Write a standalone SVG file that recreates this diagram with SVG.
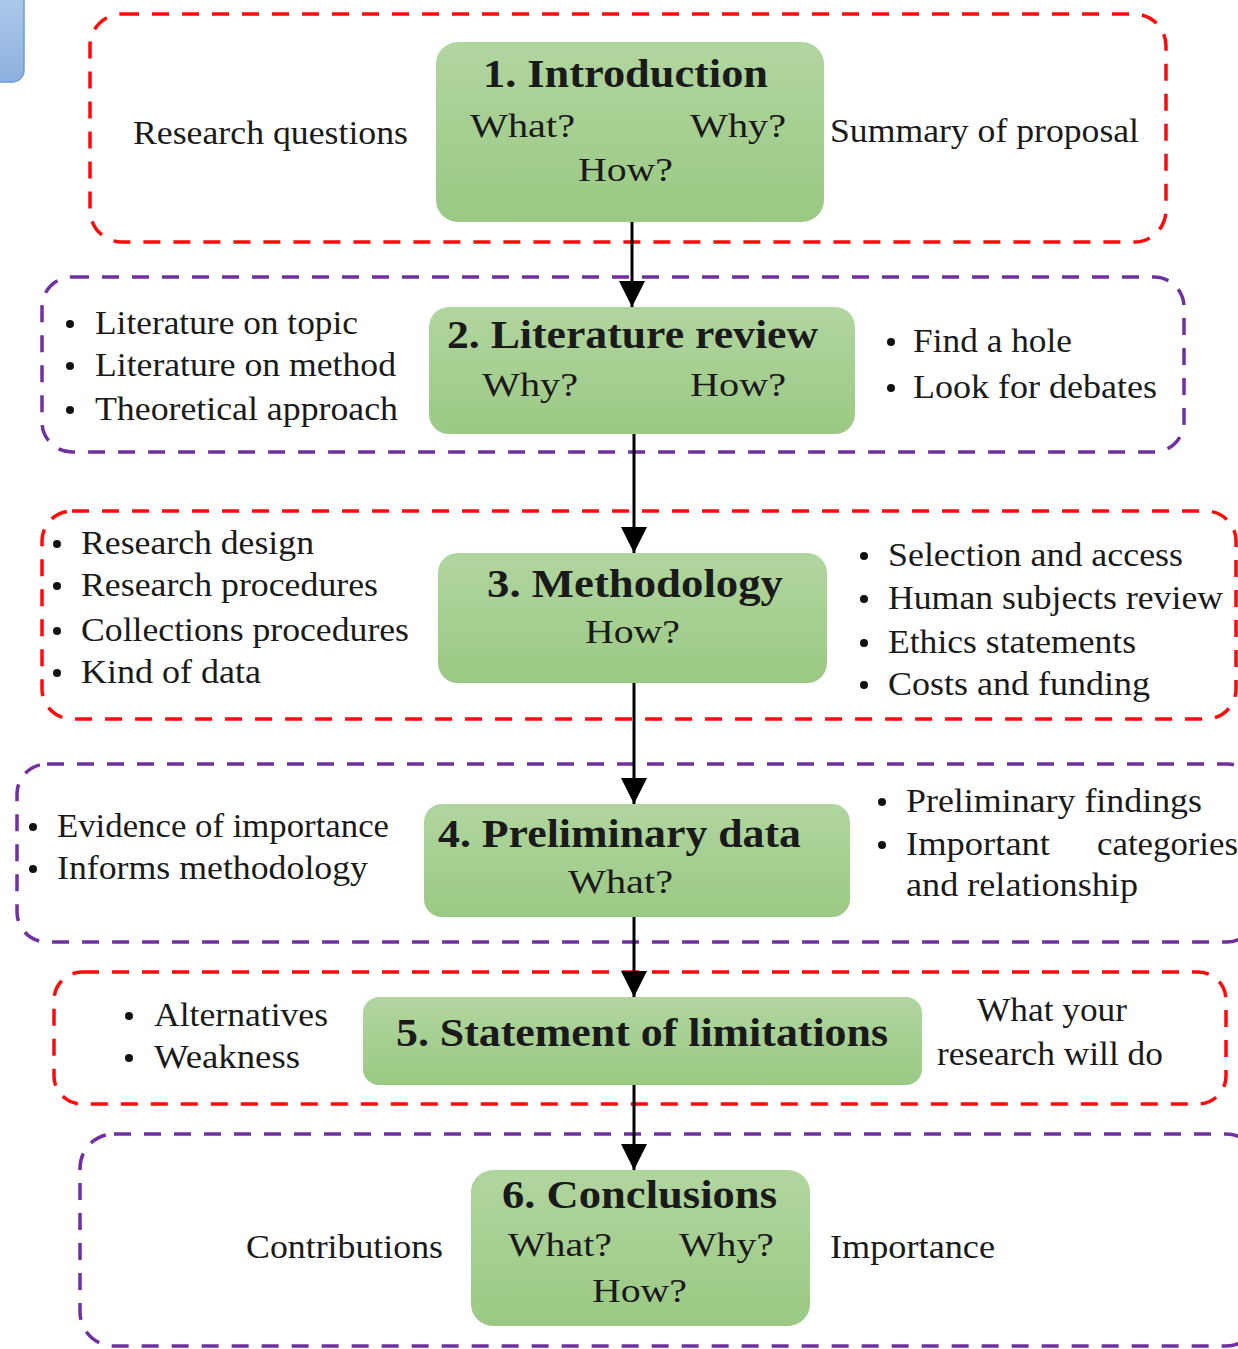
<svg xmlns="http://www.w3.org/2000/svg" width="1238" height="1349" viewBox="0 0 1238 1349">
  <style>
    .frame { fill: none; stroke-width: 3.5; stroke-dasharray: 17 13; }
    .red { stroke: #ff0a0a; }
    .purple { stroke: #7030a0; }
    .node { fill: url(#green); }
    text { font-family: "Liberation Serif", "Times New Roman", serif; fill: #1a1a1a; }
    .t { font-size: 34px; }
    .h { font-size: 41px; font-weight: bold; }
    .dot { fill: #111; }
    .link { stroke: #000; stroke-width: 3; fill: none; marker-end: url(#arrow); }
  </style>
  <defs>
    <linearGradient id="green" x1="0" y1="0" x2="0" y2="1">
      <stop offset="0" stop-color="#b1d59f"/>
      <stop offset="1" stop-color="#9bc984"/>
    </linearGradient>
    <linearGradient id="blue" x1="0" y1="0" x2="0" y2="1">
      <stop offset="0" stop-color="#b3cdeb"/>
      <stop offset="1" stop-color="#8db1df"/>
    </linearGradient>
    <marker id="arrow" markerUnits="userSpaceOnUse" markerWidth="26" markerHeight="26" viewBox="0 0 26 26" refX="26" refY="13" orient="auto">
      <path d="M0,0 L26,13 L0,26 Z" fill="#000"/>
    </marker>
  </defs>

  <rect width="1238" height="1349" fill="#fff"/>

  <!-- corner tab -->
  <rect x="-20" y="-20" width="44" height="102" rx="12" fill="url(#blue)" stroke="#6e9bd2" stroke-width="1.5"/>

  <!-- section frames with side notes -->
  <g id="frame1">
    <rect class="frame red" x="90" y="14" width="1076" height="228" rx="32"/>
    <text class="t" x="133" y="144" textLength="275" lengthAdjust="spacingAndGlyphs">Research questions</text>
    <text class="t" x="830" y="142" textLength="309" lengthAdjust="spacingAndGlyphs">Summary of proposal</text>
  </g>
  <g id="frame2">
    <rect class="frame purple" x="42" y="277" width="1142" height="175" rx="30"/>
    <circle class="dot" cx="70" cy="324" r="4"/>
    <circle class="dot" cx="70" cy="366" r="4"/>
    <circle class="dot" cx="70" cy="410" r="4"/>
    <text class="t" x="95" y="334" textLength="263" lengthAdjust="spacingAndGlyphs">Literature on topic</text>
    <text class="t" x="95" y="376" textLength="301" lengthAdjust="spacingAndGlyphs">Literature on method</text>
    <text class="t" x="95" y="420" textLength="303" lengthAdjust="spacingAndGlyphs">Theoretical approach</text>
    <circle class="dot" cx="891" cy="342" r="4"/>
    <circle class="dot" cx="891" cy="388" r="4"/>
    <text class="t" x="913" y="352" textLength="159" lengthAdjust="spacingAndGlyphs">Find a hole</text>
    <text class="t" x="913" y="398" textLength="244" lengthAdjust="spacingAndGlyphs">Look for debates</text>
  </g>
  <g id="frame3">
    <rect class="frame red" x="42" y="511" width="1194" height="208" rx="30"/>
    <circle class="dot" cx="57" cy="544" r="4"/>
    <circle class="dot" cx="57" cy="586" r="4"/>
    <circle class="dot" cx="57" cy="631" r="4"/>
    <circle class="dot" cx="57" cy="673" r="4"/>
    <text class="t" x="81" y="554" textLength="233" lengthAdjust="spacingAndGlyphs">Research design</text>
    <text class="t" x="81" y="596" textLength="297" lengthAdjust="spacingAndGlyphs">Research procedures</text>
    <text class="t" x="81" y="641" textLength="328" lengthAdjust="spacingAndGlyphs">Collections procedures</text>
    <text class="t" x="81" y="683" textLength="180" lengthAdjust="spacingAndGlyphs">Kind of data</text>
    <circle class="dot" cx="864" cy="556" r="4"/>
    <circle class="dot" cx="864" cy="599" r="4"/>
    <circle class="dot" cx="864" cy="643" r="4"/>
    <circle class="dot" cx="864" cy="685" r="4"/>
    <text class="t" x="888" y="566" textLength="295" lengthAdjust="spacingAndGlyphs">Selection and access</text>
    <text class="t" x="888" y="609" textLength="335" lengthAdjust="spacingAndGlyphs">Human subjects review</text>
    <text class="t" x="888" y="653" textLength="248" lengthAdjust="spacingAndGlyphs">Ethics statements</text>
    <text class="t" x="888" y="695" textLength="262" lengthAdjust="spacingAndGlyphs">Costs and funding</text>
  </g>
  <g id="frame4">
    <rect class="frame purple" x="17" y="764" width="1240" height="178" rx="30"/>
    <circle class="dot" cx="33" cy="827" r="4"/>
    <circle class="dot" cx="33" cy="869" r="4"/>
    <text class="t" x="57" y="837" textLength="332" lengthAdjust="spacingAndGlyphs">Evidence of importance</text>
    <text class="t" x="57" y="879" textLength="311" lengthAdjust="spacingAndGlyphs">Informs methodology</text>
    <circle class="dot" cx="882" cy="802" r="4"/>
    <circle class="dot" cx="882" cy="845" r="4"/>
    <text class="t" x="906" y="812" textLength="296" lengthAdjust="spacingAndGlyphs">Preliminary findings</text>
    <text class="t" x="906" y="855" textLength="144" lengthAdjust="spacingAndGlyphs">Important</text>
    <text class="t" x="1097" y="855" textLength="141" lengthAdjust="spacingAndGlyphs">categories</text>
    <text class="t" x="906" y="896" textLength="232" lengthAdjust="spacingAndGlyphs">and relationship</text>
  </g>
  <g id="frame5">
    <rect class="frame red" x="54" y="972" width="1172" height="132" rx="28"/>
    <circle class="dot" cx="129" cy="1016" r="4"/>
    <circle class="dot" cx="129" cy="1058" r="4"/>
    <text class="t" x="154" y="1026" textLength="174" lengthAdjust="spacingAndGlyphs">Alternatives</text>
    <text class="t" x="154" y="1068" textLength="146" lengthAdjust="spacingAndGlyphs">Weakness</text>
    <text class="t" x="977" y="1021" textLength="150" lengthAdjust="spacingAndGlyphs">What your</text>
    <text class="t" x="937" y="1065" textLength="226" lengthAdjust="spacingAndGlyphs">research will do</text>
  </g>
  <g id="frame6">
    <rect class="frame purple" x="80" y="1134" width="1180" height="212" rx="34"/>
    <text class="t" x="246" y="1258" textLength="197" lengthAdjust="spacingAndGlyphs">Contributions</text>
    <text class="t" x="830" y="1258" textLength="165" lengthAdjust="spacingAndGlyphs">Importance</text>
  </g>

  <!-- connectors -->
  <g id="connectors">
    <line class="link" x1="632" y1="222" x2="632" y2="307"/>
    <line class="link" x1="634" y1="434" x2="634" y2="553"/>
    <line class="link" x1="634" y1="683" x2="634" y2="804"/>
    <line class="link" x1="634" y1="917" x2="634" y2="997"/>
    <line class="link" x1="634" y1="1085" x2="634" y2="1170"/>
  </g>

  <!-- process steps -->
  <g id="step1">
    <rect class="node" x="436" y="42" width="388" height="180" rx="22"/>
    <text class="h" x="483" y="87" textLength="285" lengthAdjust="spacingAndGlyphs">1. Introduction</text>
    <text class="t" x="470" y="137" textLength="105" lengthAdjust="spacingAndGlyphs">What?</text>
    <text class="t" x="690" y="137" textLength="96" lengthAdjust="spacingAndGlyphs">Why?</text>
    <text class="t" x="578" y="181" textLength="95" lengthAdjust="spacingAndGlyphs">How?</text>
  </g>
  <g id="step2">
    <rect class="node" x="429" y="307" width="426" height="127" rx="20"/>
    <text class="h" x="447" y="348" textLength="371" lengthAdjust="spacingAndGlyphs">2. Literature review</text>
    <text class="t" x="482" y="396" textLength="96" lengthAdjust="spacingAndGlyphs">Why?</text>
    <text class="t" x="690" y="396" textLength="96" lengthAdjust="spacingAndGlyphs">How?</text>
  </g>
  <g id="step3">
    <rect class="node" x="438" y="553" width="389" height="130" rx="20"/>
    <text class="h" x="487" y="597" textLength="296" lengthAdjust="spacingAndGlyphs">3. Methodology</text>
    <text class="t" x="585" y="643" textLength="95" lengthAdjust="spacingAndGlyphs">How?</text>
  </g>
  <g id="step4">
    <rect class="node" x="424" y="804" width="426" height="113" rx="18"/>
    <text class="h" x="438" y="847" textLength="363" lengthAdjust="spacingAndGlyphs">4. Preliminary data</text>
    <text class="t" x="568" y="893" textLength="105" lengthAdjust="spacingAndGlyphs">What?</text>
  </g>
  <g id="step5">
    <rect class="node" x="363" y="997" width="559" height="88" rx="16"/>
    <text class="h" x="396" y="1046" textLength="492" lengthAdjust="spacingAndGlyphs">5. Statement of limitations</text>
  </g>
  <g id="step6">
    <rect class="node" x="471" y="1170" width="339" height="156" rx="22"/>
    <text class="h" x="502" y="1208" textLength="275" lengthAdjust="spacingAndGlyphs">6. Conclusions</text>
    <text class="t" x="508" y="1256" textLength="104" lengthAdjust="spacingAndGlyphs">What?</text>
    <text class="t" x="679" y="1256" textLength="95" lengthAdjust="spacingAndGlyphs">Why?</text>
    <text class="t" x="592" y="1302" textLength="95" lengthAdjust="spacingAndGlyphs">How?</text>
  </g>
</svg>
